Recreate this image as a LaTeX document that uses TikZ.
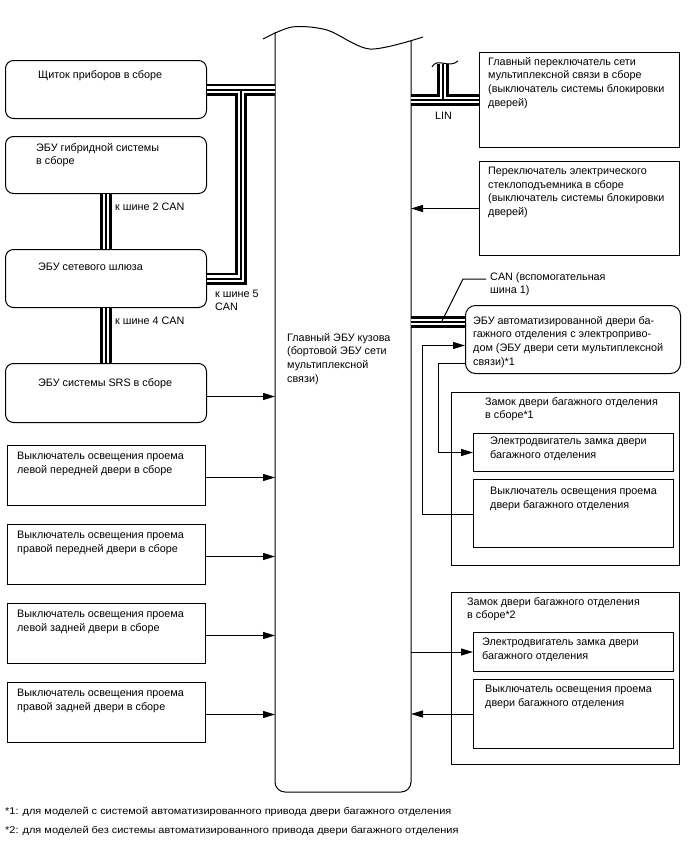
\documentclass[tikz,border=0pt]{standalone}
\usepackage{fontspec}
\setmainfont{Liberation Sans}
\newfontfamily\notefont[FakeStretch=1.12]{Liberation Sans}
\usetikzlibrary{arrows.meta,positioning}

% bus line: outer black, white gap, thin centre
\newcommand\busline[1]{%
  \draw[line width=12pt]#1;
  \draw[white,line width=6.5pt]#1;
  \draw[line width=2pt]#1;}

\begin{document}
\begin{tikzpicture}[x=1pt,y=-1pt,
  box/.style={draw,line width=1pt,anchor=north west,inner sep=0pt},
  rbox/.style={box,rounded corners=8pt},
  txt/.style={anchor=north west,inner sep=0pt,align=left,font=\fontsize{10.8}{13.6}\selectfont},
  arr/.style={line width=1pt,-{Triangle[length=12pt,width=7pt]}},
  wire/.style={line width=1pt}]
\useasboundingbox[fill=white] (0,0) rectangle (688,852);

% main body ECU
\draw[wire] plot[smooth] coordinates {(263,39) (292,27) (327,30) (370,49) (423,37)};
\draw[wire,rounded corners=10pt] (275,32) -- (275,792) -- (411,792) -- (411,41);
\coordinate (bodyL) at (275,0);
\coordinate (bodyR) at (411,0);
\node[txt] (body) at (287,333) {Главный ЭБУ кузова\\(бортовой ЭБУ сети\\мультиплексной\\связи)};

% left column
\node[rbox,minimum width=201pt,minimum height=58pt] (inst) at (5,60) {};
\node[txt] (instT) at (38,70) {Щиток приборов в сборе};
\node[rbox,minimum width=201pt,minimum height=57pt] (hyb) at (5,136) {};
\node[txt] (hybT) at (36,143) {ЭБУ гибридной системы\\в сборе};
\node[rbox,minimum width=201pt,minimum height=58pt] (gw) at (5,249) {};
\node[txt] (gwT) at (38,263) {ЭБУ сетевого шлюза};
\node[rbox,minimum width=201pt,minimum height=59pt] (srs) at (5,363) {};
\node[txt] (srsT) at (38,378) {ЭБУ системы SRS в сборе};

\node[box,minimum width=198pt,minimum height=60pt] (dl1) at (7,445) {};
\node[txt] (dl1T) at (17,452) {Выключатель освещения проема\\левой передней двери в сборе};
\node[box,minimum width=198pt,minimum height=60pt] (dl2) at (7,524) {};
\node[txt] (dl2T) at (17,531) {Выключатель освещения проема\\правой передней двери в сборе};
\node[box,minimum width=198pt,minimum height=60pt] (dl3) at (7,603) {};
\node[txt] (dl3T) at (17,610) {Выключатель освещения проема\\левой задней двери в сборе};
\node[box,minimum width=198pt,minimum height=60pt] (dl4) at (7,682) {};
\node[txt] (dl4T) at (17,689) {Выключатель освещения проема\\правой задней двери в сборе};

% CAN buses on the left
\coordinate (jA) at (241,0);
\busline{(inst.east) -- (inst.east -| bodyL) (inst.east -| jA) |- (gw.east)}
\busline{(hyb.south) -- (gw.north) (gw.south) -- (srs.north)}
\node[txt] (can2) at (115,203) {к шине 2 CAN};
\node[txt] (can4) at (115,317) {к шине 4 CAN};
\node[txt,font=\fontsize{10.8}{12.5}\selectfont] (can5) at (215,290) {к шине 5\\CAN};

\draw[arr] ([yshift=-3.5pt]srs.east) -- ([yshift=-3.5pt]srs.east -| bodyL);
\foreach \n in {dl1,dl2,dl3,dl4}
  \draw[arr] ([yshift=-2pt]\n.east) -- ([yshift=-2pt]\n.east -| bodyL);

% right column
\node[box,minimum width=200pt,minimum height=95pt] (msw) at (479,52) {};
\node[txt] (mswT) at (488,57) {Главный переключатель сети\\мультиплексной связи в сборе\\(выключатель системы блокировки\\дверей)};
\node[box,minimum width=200pt,minimum height=94pt] (pwsw) at (479,161) {};
\node[txt] (pwswT) at (488,167) {Переключатель электрического\\стеклоподъемника в сборе\\(выключатель системы блокировки\\дверей)};

\coordinate (jL) at (443,64);
\busline{(msw.west) -- (msw.west -| bodyR) (msw.west -| jL) -- (jL)}
\draw[wire] (432,67) .. controls (437,57) and (449,69) .. (458,61);
\node[txt] (lin) at (435,112) {LIN};
\draw[arr] (pwsw.west) -- (pwsw.west -| bodyR);

\node[rbox,rounded corners=10pt,minimum width=215pt,minimum height=68pt] (ecu) at (465,305) {};
\node[txt] (ecuT) at (473,316) {ЭБУ автоматизированной двери ба-\\гажного отделения с электроприво-\\дом (ЭБУ двери сети мультиплексной\\связи)*1};
\coordinate (canA) at (411,322);
\busline{(canA) -- (canA -| ecu.west)}
\node[txt] (canT) at (490,272) {CAN (вспомогательная\\шина 1)};
\draw[wire] (canT.west |- 0,279) ++(-4,0) -- ++(-23,0) -- (442,321);

\node[box,minimum width=228pt,minimum height=173pt] (lk1) at (451,392) {};
\node[txt] (lk1T) at (485,397) {Замок двери багажного отделения\\в сборе*1};
\node[box,minimum width=200pt,minimum height=38pt] (mo1) at (473,433) {};
\node[txt] (mo1T) at (490,437) {Электродвигатель замка двери\\багажного отделения};
\node[box,minimum width=200pt,minimum height=68pt] (sw1) at (473,479) {};
\node[txt] (sw1T) at (490,487) {Выключатель освещения проема\\двери багажного отделения};
\draw[arr] ([yshift=-1pt]sw1.west) -- ++(-51,0) |- ([yshift=-6pt]ecu.west);
\draw[arr] ([yshift=-24pt]ecu.west) -- ++(-27,0) |- (mo1.west);

\node[box,minimum width=228pt,minimum height=172pt] (lk2) at (451,592) {};
\node[txt] (lk2T) at (467,597) {Замок двери багажного отделения\\в сборе*2};
\node[box,minimum width=200pt,minimum height=39pt] (mo2) at (473,632) {};
\node[txt] (mo2T) at (482,638) {Электродвигатель замка двери\\багажного отделения};
\node[box,minimum width=200pt,minimum height=69pt] (sw2) at (473,679) {};
\node[txt] (sw2T) at (485,685) {Выключатель освещения проема\\двери багажного отделения};
\draw[arr] (mo2.west -| bodyR) -- (mo2.west);
\draw[arr] (sw2.west) -- (sw2.west -| bodyR);

% footnotes
\node[txt,font=\notefont\fontsize{9.8}{12}\selectfont] (fn1) at (5,807) {*1: для моделей с системой автоматизированного привода двери багажного отделения};
\node[txt,font=\notefont\fontsize{9.8}{12}\selectfont] (fn2) at (5,826) {*2: для моделей без системы автоматизированного привода двери багажного отделения};
\end{tikzpicture}
\end{document}
